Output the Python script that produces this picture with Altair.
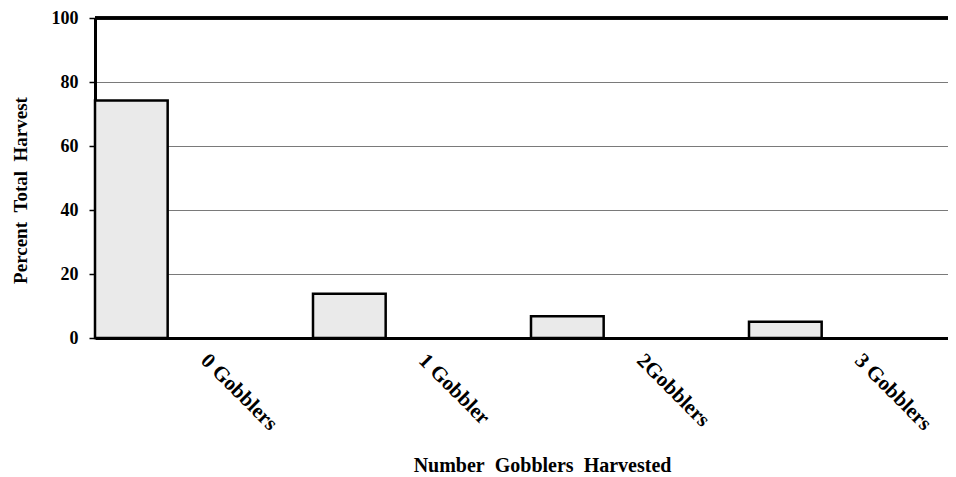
import altair as alt
import pandas as pd

# ---- data ----
categories = ["0 Gobblers", "1 Gobbler", "2Gobblers", "3 Gobblers"]
percent = [74.2, 13.8, 6.8, 5.1]
y_ticks = [0, 20, 40, 60, 80, 100]
slots = ["a", "b", "c"]

df = pd.DataFrame({"cat": categories, "pct": percent, "slot": [slots[0]] * len(categories)})

FONT = "Liberation Serif"
NB = "\u00a0"
x_title = f"Number{NB}{NB}Gobblers{NB}{NB}Harvested"
y_title = f"Percent{NB}{NB}Total{NB}{NB}Harvest"

x_enc = alt.X(
    "cat:N",
    sort=categories,
    scale=alt.Scale(domain=categories, range=[0, 872], paddingInner=0, paddingOuter=0),
    axis=alt.Axis(
        title=x_title,
        labelAngle=45,
        labelAlign="left",
        labelBaseline="middle",
        labelPadding=19,
        ticks=False,
        tickSize=0,
        grid=False,
        domainColor="black",
        domainWidth=3,
        labelFont=FONT,
        labelFontSize=21,
        labelFontWeight="bold",
        labelColor="black",
        labelLimit=400,
        titleFont=FONT,
        titleFontSize=20,
        titleFontWeight="bold",
        titleColor="black",
        titleX=447,
        titleY=133,
        titleAlign="center",
        titleBaseline="alphabetic",
    ),
)

y_enc = alt.Y(
    "pct:Q",
    scale=alt.Scale(domain=[0, 100], nice=False),
    axis=alt.Axis(
        values=y_ticks,
        title=y_title,
        grid=True,
        gridColor="#7a7a7a",
        gridWidth=1,
        tickColor="black",
        tickSize=6,
        tickWidth=1.5,
        domainColor="black",
        domainWidth=3,
        labelFont=FONT,
        labelFontSize=18,
        labelFontWeight="bold",
        labelColor="black",
        labelPadding=11,
        titleFont=FONT,
        titleFontSize=19,
        titleFontWeight="bold",
        titleColor="black",
        titleX=-75,
        titleY=172,
        titleAlign="center",
        titleBaseline="middle",
    ),
)

bars = alt.Chart(df).mark_bar(fill="#eaeaea", stroke="black", strokeWidth=2.5).encode(
    x=x_enc,
    xOffset=alt.XOffset("slot:N", scale=alt.Scale(domain=slots, paddingInner=0, paddingOuter=0)),
    y=y_enc,
)

top_line = alt.Chart(df).mark_rule(color="black", strokeWidth=3).encode(
    y=alt.datum(y_ticks[-1])
)

chart = (
    alt.layer(bars, top_line)
    .properties(
        width=853,
        height=320,
        autosize=alt.AutoSizeParams(type="none"),
        padding={"left": 87, "top": 10, "right": 0, "bottom": 139},
        background="white",
    )
    .configure_view(stroke="transparent")
)

chart.save("out.html", embed_options={"renderer": "svg", "actions": False})
